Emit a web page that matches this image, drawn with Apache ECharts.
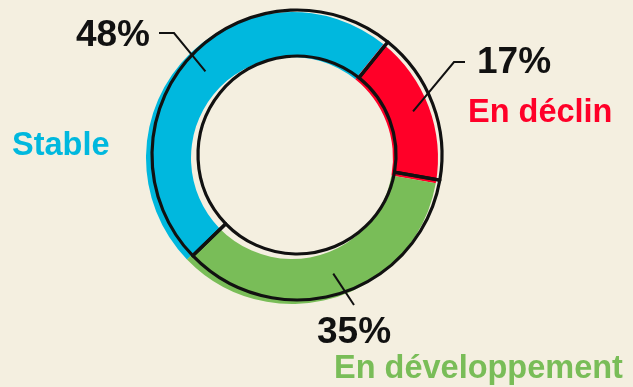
<!DOCTYPE html>
<html>
<head>
<meta charset="utf-8">
<script src="https://cdn.jsdelivr.net/npm/echarts@6/dist/echarts.min.js"></script>
<style>
  html, body { margin: 0; padding: 0; background: #f4efe0; }
  #chart { width: 633px; height: 387px; }
</style>
</head>
<body>
<div id="chart"></div>
<script>
// Share of each trend, in percent
const categories = ['Stable', 'En déclin', 'En développement'];
const shares = [48, 17, 35];
const palette = ['#00b8de', '#ff0028', '#79bd58'];

const FONT = '"Liberation Sans", Arial, sans-serif';
const INK = '#111111';
const CENTER = [297, 155];
const START_ANGLE = 224;
const LEADER_RADIUS = 124;

// Where each percentage sits and how its leader line reaches it
const pctSpots = [
  { x: 150, y: 36, align: 'left-of' },
  { x: 477, y: 63, align: 'right-of' },
  { x: 354, y: 333, align: 'below' }
];
// Where each category name sits
const nameSpots = [
  { x: 12, y: 146 },
  { x: 468, y: 113 },
  { x: 334, y: 369 }
];

const total = shares.reduce((a, b) => a + b, 0);

// Mid angle (radians, counter-clockwise from 3 o'clock) of each slice
function midAngle(i) {
  let before = 0;
  for (let k = 0; k < i; k++) before += shares[k];
  const deg = START_ANGLE - (before + shares[i] / 2) / total * 360;
  return deg * Math.PI / 180;
}

function pctLayout(p) {
  const i = p.dataIndex;
  const s = pctSpots[i];
  const a = midAngle(i);
  const start = [CENTER[0] + Math.cos(a) * LEADER_RADIUS, CENTER[1] - Math.sin(a) * LEADER_RADIUS];
  let end, elbow, align;
  if (s.align === 'left-of') {
    align = 'right';
    end = [s.x + 9, s.y - 3];
    elbow = [end[0] + 15, end[1]];
  } else if (s.align === 'right-of') {
    align = 'left';
    end = [s.x - 12, s.y - 1];
    elbow = [end[0] - 11, end[1]];
  } else {
    align = 'center';
    end = [s.x, s.y - 28];
    elbow = end;
  }
  return {
    x: s.x, y: s.y, align: align, verticalAlign: 'middle',
    labelLinePoints: [start, elbow, end]
  };
}

function nameLayout(p) {
  const s = nameSpots[p.dataIndex];
  return { x: s.x, y: s.y, align: 'left', verticalAlign: 'middle' };
}

const fillData = categories.map((n, i) => ({ name: n, value: shares[i], itemStyle: { color: palette[i] } }));
const outlineData = categories.map((n, i) => ({ name: n, value: shares[i] }));
const nameData = categories.map((n, i) => ({ name: n, value: shares[i], label: { color: palette[i] } }));

const chart = echarts.init(document.getElementById('chart'), null, { renderer: 'canvas' });

chart.setOption({
  backgroundColor: '#f4efe0',
  animation: false,
  series: [
    {
      // coloured ring, drawn slightly off the outline for a sketched feel
      type: 'pie', silent: true, z: 1,
      center: [292, 158], radius: [101, 146],
      startAngle: START_ANGLE, clockwise: true,
      label: { show: false }, labelLine: { show: false },
      itemStyle: { borderWidth: 0 },
      data: fillData
    },
    {
      // black outline of the ring and its slice boundaries
      type: 'pie', silent: true, z: 2,
      center: CENTER, radius: [99, 145],
      startAngle: START_ANGLE, clockwise: true,
      label: { show: false }, labelLine: { show: false },
      itemStyle: { color: 'rgba(0,0,0,0)', borderColor: INK, borderWidth: 3.2 },
      data: outlineData
    },
    {
      // percentages with leader lines
      type: 'pie', silent: true, z: 5,
      center: CENTER, radius: [0, LEADER_RADIUS],
      startAngle: START_ANGLE, clockwise: true,
      avoidLabelOverlap: false,
      itemStyle: { color: 'rgba(0,0,0,0)' },
      label: {
        show: true, position: 'outside', overflow: 'none',
        formatter: '{c}%',
        color: INK, fontFamily: FONT, fontWeight: 'bold', fontSize: 37
      },
      labelLine: { show: true, length: 20, length2: 10, lineStyle: { color: INK, width: 2 } },
      labelLayout: pctLayout,
      data: outlineData
    },
    {
      // category names
      type: 'pie', silent: true, z: 5,
      center: CENTER, radius: [0, LEADER_RADIUS],
      startAngle: START_ANGLE, clockwise: true,
      avoidLabelOverlap: false,
      itemStyle: { color: 'rgba(0,0,0,0)' },
      label: {
        show: true, position: 'outside', overflow: 'none',
        formatter: '{b}',
        fontFamily: FONT, fontWeight: 'bold', fontSize: 32.5
      },
      labelLine: { show: false },
      labelLayout: nameLayout,
      data: nameData
    }
  ]
});
</script>
</body>
</html>
